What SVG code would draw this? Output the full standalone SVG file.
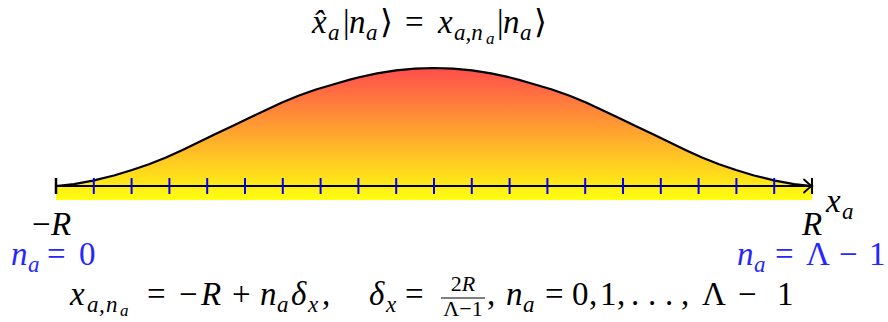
<svg xmlns="http://www.w3.org/2000/svg" width="888" height="322" viewBox="0 0 888 322">
<style>
.m{font-family:"Liberation Serif","DejaVu Serif",serif;font-size:33px;font-style:italic;fill:#000}
.u{font-style:normal}
.s{font-size:23px}
.ss{font-size:17px}
.f{font-size:22px}
.blue{fill:#2626ff}
.tick{stroke:#0000ff;stroke-width:2}
.btick{stroke:#000;stroke-width:2.5}
</style>
<defs>
<linearGradient id="g" gradientUnits="userSpaceOnUse" x1="0" y1="68" x2="0" y2="200">
<stop offset="0" stop-color="#ff4d4d"/>
<stop offset="1" stop-color="#ffff10"/>
</linearGradient>
</defs>
<rect width="888" height="322" fill="#fff"/>
<g id="shape">
<path fill="url(#g)" d="M56,186 L74,184.2 L93,180.6 L114,175.5 L132,170 L149,164.2 L166,157.5 L182,150.2 L199,142 L216,133.7 L233,125.7 L249,118 L266,110 L282,102.5 L299,95.5 L316,89.5 L339,82.8 L349,79.9 L358,77.5 L377,73.4 L396,70.4 L415,68.6 L434,68 L453,68.6 L472,70.4 L491,73.4 L510,77.5 L519,79.9 L529,82.8 L552,89.5 L569,95.5 L586,102.5 L602,110 L619,118 L635,125.7 L652,133.7 L669,142 L686,150.2 L702,157.5 L719,164.2 L736,170 L754,175.5 L775,180.6 L794,184.2 L812,186 L812,200 L56,200 Z"/>
<path fill="none" stroke="#000" stroke-width="2.2" stroke-linejoin="round" d="M56,186 L74,184.2 L93,180.6 L114,175.5 L132,170 L149,164.2 L166,157.5 L182,150.2 L199,142 L216,133.7 L233,125.7 L249,118 L266,110 L282,102.5 L299,95.5 L316,89.5 L339,82.8 L349,79.9 L358,77.5 L377,73.4 L396,70.4 L415,68.6 L434,68 L453,68.6 L472,70.4 L491,73.4 L510,77.5 L519,79.9 L529,82.8 L552,89.5 L569,95.5 L586,102.5 L602,110 L619,118 L635,125.7 L652,133.7 L669,142 L686,150.2 L702,157.5 L719,164.2 L736,170 L754,175.5 L775,180.6 L794,184.2 L812,186"/>
</g>
<g id="connectors">
<line x1="56" y1="186" x2="811" y2="186" stroke="#000" stroke-width="2"/>
<path d="M804,179.5 Q808.5,184 812,186 Q808.5,188 804,192.5" fill="none" stroke="#000" stroke-width="1.8" stroke-linecap="round"/>
<line class="btick" x1="56" y1="178" x2="56" y2="194"/>
<line class="btick" x1="812" y1="178" x2="812" y2="194" style="stroke-width:2"/>
<g id="ticks">
<line class="tick" x1="93.8" y1="178" x2="93.8" y2="194"/>
<line class="tick" x1="131.6" y1="178" x2="131.6" y2="194"/>
<line class="tick" x1="169.4" y1="178" x2="169.4" y2="194"/>
<line class="tick" x1="207.2" y1="178" x2="207.2" y2="194"/>
<line class="tick" x1="245" y1="178" x2="245" y2="194"/>
<line class="tick" x1="282.8" y1="178" x2="282.8" y2="194"/>
<line class="tick" x1="320.6" y1="178" x2="320.6" y2="194"/>
<line class="tick" x1="358.4" y1="178" x2="358.4" y2="194"/>
<line class="tick" x1="396.2" y1="178" x2="396.2" y2="194"/>
<line class="tick" x1="434" y1="178" x2="434" y2="194"/>
<line class="tick" x1="471.8" y1="178" x2="471.8" y2="194"/>
<line class="tick" x1="509.6" y1="178" x2="509.6" y2="194"/>
<line class="tick" x1="547.4" y1="178" x2="547.4" y2="194"/>
<line class="tick" x1="585.2" y1="178" x2="585.2" y2="194"/>
<line class="tick" x1="623" y1="178" x2="623" y2="194"/>
<line class="tick" x1="660.8" y1="178" x2="660.8" y2="194"/>
<line class="tick" x1="698.6" y1="178" x2="698.6" y2="194"/>
<line class="tick" x1="736.4" y1="178" x2="736.4" y2="194"/>
<line class="tick" x1="774.2" y1="178" x2="774.2" y2="194"/>
</g>
</g>
<g id="title">
<text class="m" y="33"><tspan x="312">x̂</tspan><tspan class="s" x="328" y="40">a</tspan><tspan class="u" x="343" y="33">|</tspan><tspan x="349">n</tspan><tspan class="s" x="366" y="40">a</tspan><tspan class="u" x="380" y="33">⟩</tspan><tspan class="u" x="405">=</tspan><tspan x="438">x</tspan><tspan class="s" x="454" y="40">a,n</tspan><tspan class="ss" x="486" y="44">a</tspan><tspan class="u" x="497" y="33">|</tspan><tspan x="503">n</tspan><tspan class="s" x="520" y="40">a</tspan><tspan class="u" x="534" y="33">⟩</tspan></text>
</g>
<g id="left-label">
<text class="m" y="235"><tspan class="u" x="32">−</tspan><tspan x="51">R</tspan></text>
<text class="m blue" y="265"><tspan x="11">n</tspan><tspan class="s" x="28" y="272">a</tspan><tspan class="u" x="47" y="265">=</tspan><tspan class="u" x="79">0</tspan></text>
</g>
<g id="right-label">
<text class="m" x="802" y="235">R</text>
<text class="m" y="212"><tspan x="826">x</tspan><tspan class="s" x="842" y="219">a</tspan></text>
<text class="m blue" y="265"><tspan x="737">n</tspan><tspan class="s" x="754" y="272">a</tspan><tspan class="u" x="775" y="265">=</tspan><tspan class="u" x="806">Λ</tspan><tspan class="u" x="839">−</tspan><tspan class="u" x="869">1</tspan></text>
</g>
<g id="formula">
<text class="m" y="305"><tspan x="70">x</tspan><tspan class="s" x="87" y="312">a</tspan><tspan class="s" x="99">,</tspan><tspan class="s" x="106">n</tspan><tspan class="ss" x="120" y="316">a</tspan><tspan class="u" x="147" y="305">=</tspan><tspan class="u" x="179">−</tspan><tspan x="201">R</tspan><tspan class="u" x="232">+</tspan><tspan x="260">n</tspan><tspan class="s" x="277" y="312">a</tspan><tspan x="291" y="305">δ</tspan><tspan class="s" x="308" y="312">x</tspan><tspan class="u" x="322" y="305">,</tspan></text>
<text class="m" y="305"><tspan x="369">δ</tspan><tspan class="s" x="386" y="312">x</tspan><tspan class="u" x="405" y="305">=</tspan></text>
<text class="m f" x="463" y="291" text-anchor="middle"><tspan class="u">2</tspan>R</text>
<line x1="441" y1="298" x2="485" y2="298" stroke="#000" stroke-width="1.1"/>
<text class="m f u" x="463" y="316" text-anchor="middle">Λ−1</text>
<text class="m u" x="487" y="305">,</text>
<text class="m" y="305"><tspan x="506">n</tspan><tspan class="s" x="523" y="312">a</tspan><tspan class="u" x="545" y="305">=</tspan><tspan class="u" x="572">0</tspan><tspan class="u" x="589">,</tspan><tspan class="u" x="600">1</tspan><tspan class="u" x="617">,</tspan><tspan class="u" x="631">.</tspan><tspan class="u" x="648">.</tspan><tspan class="u" x="665">.</tspan><tspan class="u" x="681">,</tspan><tspan class="u" x="702">Λ</tspan><tspan class="u" x="738">−</tspan><tspan class="u" x="777">1</tspan></text>
</g>
</svg>
